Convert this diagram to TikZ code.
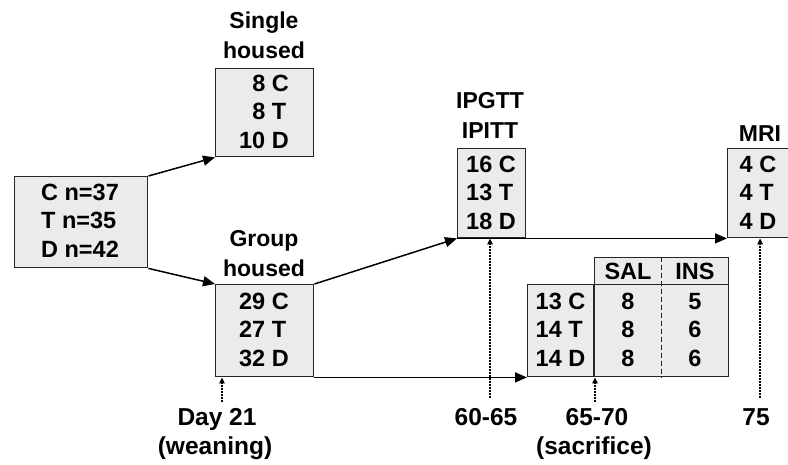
\documentclass[tikz,border=0pt]{standalone}
\usepackage{fontspec}
\setmainfont{Liberation Sans}
\usetikzlibrary{arrows.meta}
\definecolor{boxgray}{HTML}{EBEBEB}
\begin{document}
\begin{tikzpicture}[x=1pt,y=-1pt,
  box/.style={draw=black!85, line width=1.4pt, fill=boxgray, inner sep=0pt, anchor=north west},
  txt/.style={inner sep=0pt, font=\bfseries\fontsize{23.5}{28.5}\selectfont},
  lbl/.style={inner sep=0pt, font=\bfseries\fontsize{24.5}{29}\selectfont, anchor=base},
  ttl/.style={inner sep=0pt, font=\bfseries\fontsize{23}{28}\selectfont, anchor=base},
  conn/.style={line width=1.5pt, -{Triangle[length=12pt,width=10pt]}},
  plain/.style={line width=1.5pt},
  dots/.style={line width=1.3pt, dash pattern=on 1.6pt off 1.4pt, -{Triangle[length=6pt,width=5.5pt]}}
]
\useasboundingbox (0,0) rectangle (788,464);

% boxes
\node[box, minimum width=133, minimum height=91] (start) at (14,176) {};
\node[box, minimum width=98, minimum height=88] (single) at (215,68) {};
\node[box, minimum width=98, minimum height=92] (group) at (215,284) {};
\node[box, minimum width=68, minimum height=89] (ipg) at (457,148) {};
\node[box, minimum width=63, minimum height=89] (mri) at (727,148) {};
\node[box, minimum width=201, minimum height=92] (sac) at (527,284) {};
\node[box, minimum width=134, minimum height=27] (hdr) at (594,257) {};
\draw[plain, draw=black!85, line width=1.4pt] (hdr.south west) -- (hdr.south west |- sac.south);
\draw[black!85, line width=1.2pt, dash pattern=on 5pt off 3pt] (hdr.north) -- (hdr.north |- sac.south);

% box texts
\node[txt] (startt) at (80,223) {\begin{tabular}{@{}l@{}}C n=37\\T n=35\\D n=42\end{tabular}};
\node[txt] (singlet) at (264,114) {\begin{tabular}{@{}r@{\ }l@{}}8 & C\\8 & T\\10 & D\end{tabular}};
\node[txt] (groupt) at (264,332) {\begin{tabular}{@{}r@{\ }l@{}}29 & C\\27 & T\\32 & D\end{tabular}};
\node[txt] (ipgt) at (491,195) {\begin{tabular}{@{}r@{\ }l@{}}16 & C\\13 & T\\18 & D\end{tabular}};
\node[txt] (mrit) at (758,195) {\begin{tabular}{@{}r@{\ }l@{}}4 & C\\4 & T\\4 & D\end{tabular}};
\node[txt] (sact) at (560.5,332) {\begin{tabular}{@{}r@{\ }l@{}}13 & C\\14 & T\\14 & D\end{tabular}};
\node[txt] (salt) at (628,332) {\begin{tabular}{@{}c@{}}8\\8\\8\end{tabular}};
\node[txt] (inst) at (695,332) {\begin{tabular}{@{}c@{}}5\\6\\6\end{tabular}};
\node[txt] (salh) at (628,271) {SAL};
\node[txt] (insh) at (695,271) {INS};

% titles
\node[ttl] (t1) at (264,28) {Single};
\node[ttl] (t2) at (264,58) {housed};
\node[ttl] (t3) at (264,246) {Group};
\node[ttl] (t4) at (264,276) {housed};
\node[ttl] (t5) at (490,108) {IPGTT};
\node[ttl] (t6) at (490,138) {IPITT};
\node[ttl] (t7) at (760,141) {MRI};

% connectors
\draw[conn] (start.north east) -- (single.south west);
\draw[conn] (start.south east) -- (group.north west);
\draw[conn] (group.north east) -- (ipg.south west);
\draw[conn] (ipg.south west) -- (mri.south west);
\draw[conn] (group.south east) -- (sac.south west);

% time markers
\coordinate (m21) at (222,402);
\coordinate (m60) at (490,398);
\coordinate (m65) at (595,402);
\coordinate (m75) at (760,398);
\draw[dots] (m21) -- (m21 |- group.south);
\draw[dots] (m60) -- (m60 |- ipg.south);
\draw[dots] (m65) -- (m65 |- sac.south);
\draw[dots] (m75) -- (m75 |- mri.south);

\node[lbl] (l1) at (217,425) {Day 21};
\node[lbl] (l2) at (215,454) {(weaning)};
\node[lbl] (l3) at (486,425) {60-65};
\node[lbl] (l4) at (597,425) {65-70};
\node[lbl] (l5) at (594,454) {(sacrifice)};
\node[lbl] (l6) at (756,425) {75};
\end{tikzpicture}
\end{document}
